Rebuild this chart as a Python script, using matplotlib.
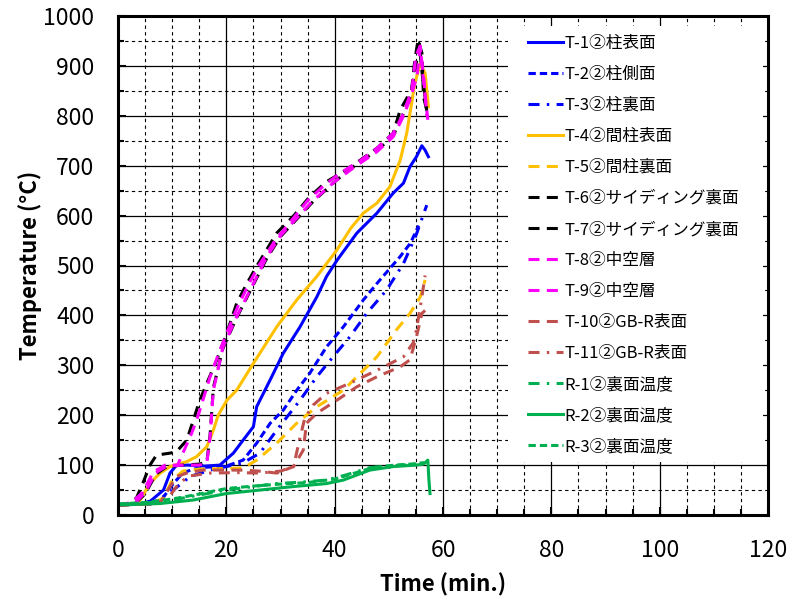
import numpy as np
import matplotlib
matplotlib.use("Agg")
import matplotlib.pyplot as plt
from matplotlib.ticker import MultipleLocator
from matplotlib.patches import Rectangle

plt.rcParams['font.family'] = ['Noto Sans CJK JP', 'DejaVu Sans']

# data (time in min, temperature in degC)
t1 = [0, 4, 6, 8.4, 9.6, 10.8, 13, 16, 18.8, 21.3, 23.1, 25, 25.6, 28.1, 30.5, 33.6, 36.7, 38.5, 40.4, 44.1, 47.8, 50.8, 52.7, 53.9, 55.1, 56.1, 56.7, 57.3]
T1 = [20, 22, 28, 50, 84, 100, 100, 98, 100, 124, 150, 177, 217, 271, 324, 377, 437, 478, 510, 565, 605, 645, 665, 698, 718, 740, 731, 718]

t2 = [0, 5, 8, 10, 12, 15, 20, 23.1, 25.6, 28.1, 30.5, 33, 35.4, 38.5, 41.6, 45.3, 47.8, 52.1, 54, 55.5]
T2 = [20, 22, 30, 60, 85, 95, 98, 110, 144, 184, 210, 250, 284, 337, 377, 431, 464, 518, 545, 580]

t3 = [0, 6, 8.4, 10.2, 13.3, 17, 20, 23, 26.2, 29.3, 33.6, 36.7, 39.7, 42.8, 45.9, 49.6, 52.7, 55, 57]
T3 = [20, 22, 37, 50, 77, 90, 97, 104, 124, 170, 230, 277, 317, 357, 404, 451, 504, 560, 621]

t4 = [0, 3, 4.1, 5.9, 7.8, 9.6, 12.7, 14.5, 16.4, 17.6, 18.5, 20.1, 21.9, 25, 29.3, 33, 36.7, 40.4, 43, 45.3, 47.8, 50.2, 52.1, 53.3, 53.9, 54.8, 55.8, 56.7, 57.3]
T4 = [20, 22, 30, 64, 84, 97, 107, 117, 137, 170, 200, 230, 250, 304, 377, 431, 478, 531, 575, 605, 625, 658, 711, 765, 805, 865, 905, 885, 818]

t5 = [0, 6, 8.4, 10, 12, 15, 20, 23.1, 25.6, 29.3, 33, 36.7, 41.6, 45.3, 47.8, 51.4, 53.9, 55.8, 56.7]
T5 = [20, 22, 34, 70, 88, 92, 93, 94, 110, 144, 184, 217, 250, 290, 317, 371, 404, 437, 471]

t6 = [0, 2, 3.4, 4.6, 5.9, 7.1, 9.6, 10.8, 12.7, 13.9, 15.1, 16.4, 18.2, 20.1, 21.9, 23.8, 25.9, 29.3, 32.3, 35.4, 38.5, 41.6, 44.7, 47.8, 50.8, 52.1, 54.2, 54.8, 55.4, 56.1, 56.4, 57.3]
T6 = [20, 22, 34, 64, 100, 120, 124, 127, 150, 190, 230, 264, 310, 365, 424, 464, 504, 565, 598, 638, 668, 688, 711, 735, 765, 812, 852, 912, 952, 926, 838, 798]

t7 = [0, 3, 5, 7, 9, 12, 15, 16.4, 17, 17.6, 19.4, 21.9, 25, 27.5, 30, 33, 36, 40, 44, 47.8, 50.8, 52.5, 54, 55, 55.6, 56.2, 57]
T7 = [20, 22, 42, 82, 97, 100, 102, 106, 160, 255, 335, 395, 462, 515, 558, 593, 628, 668, 703, 730, 760, 800, 840, 900, 945, 880, 810]

t8 = [0, 2.5, 4.6, 6.5, 8.7, 11, 13.6, 14.5, 15.1, 17, 18.8, 20.1, 22, 24, 26, 29, 32, 35, 38, 41, 44.7, 47.8, 50.8, 52.5, 54.2, 55, 55.8, 56.3, 57.2]
T8 = [20, 25, 46, 86, 100, 100, 164, 190, 210, 277, 330, 365, 415, 460, 500, 550, 590, 630, 660, 685, 710, 735, 765, 800, 850, 920, 940, 880, 792]

t9 = [0, 3, 5, 7, 9, 12, 15, 16.4, 17, 17.6, 19.4, 21.9, 25, 27.5, 30, 33, 36, 40, 44, 47.8, 50.8, 52.5, 54, 55.2, 55.8, 56.5, 57]
T9 = [20, 22, 45, 85, 98, 100, 100, 104, 157, 250, 337, 397, 464, 518, 560, 595, 630, 668, 700, 728, 758, 795, 835, 880, 935, 870, 800]

t10 = [0, 6, 8, 9.5, 10.8, 13, 15.7, 20, 23.1, 26, 29.3, 32.4, 34.2, 34.8, 36.7, 40.4, 44.1, 47.8, 52.1, 53.9, 55.1, 56.1, 56.7]
T10 = [20, 22, 28, 55, 77, 85, 90, 90, 90, 88, 84, 97, 130, 184, 204, 230, 257, 277, 297, 311, 357, 404, 410]

t11 = [0, 6, 9, 11, 13, 17, 22, 26.2, 30, 32.4, 33.5, 34.5, 36, 38.5, 42.8, 47.8, 52.7, 54.5, 55.1, 56, 56.7]
T11 = [20, 22, 30, 60, 78, 84, 85, 84, 88, 97, 150, 195, 220, 244, 264, 290, 317, 345, 371, 430, 480]

tr1 = [0, 5, 10, 15, 20, 25, 29.3, 34, 38.5, 42, 46.5, 50, 53, 56]
Tr1 = [22, 24, 30, 40, 50, 57, 63, 66, 70, 80, 95, 98, 100, 102]

tr2 = [0, 7.8, 13.9, 20, 26.2, 32.4, 38.5, 41.6, 46.5, 50.8, 55, 56.4, 57.2, 57.4, 57.6]
Tr2 = [20, 23, 30, 43, 50, 57, 63, 70, 90, 97, 100, 102, 110, 70, 43]

tr3 = [0, 5, 10, 15, 20, 25, 30, 35, 40, 44, 47, 51, 54, 56.5]
Tr3 = [22, 25, 32, 42, 53, 58, 62, 65, 72, 85, 95, 100, 102, 105]

labels = ['T-1②柱表面', 'T-2②柱側面', 'T-3②柱裏面', 'T-4②間柱表面', 'T-5②間柱裏面',
          'T-6②サイディング裏面', 'T-7②サイディング裏面', 'T-8②中空層', 'T-9②中空層',
          'T-10②GB-R表面', 'T-11②GB-R表面', 'R-1②裏面温度', 'R-2②裏面温度', 'R-3②裏面温度']

blue = '#0000FF'
orange = '#FFC000'
pink = '#FF00FF'
brown = '#C0504D'
green = '#00B050'

dash_s = (0, (2.4, 1.3))
dash_l = (0, (3.6, 2.4))
dashdot = (0, (3.6, 2.4, 0.8, 2.4))

series = [
    (t1, T1, blue, '-'),
    (t2, T2, blue, dash_s),
    (t3, T3, blue, dashdot),
    (t4, T4, orange, '-'),
    (t5, T5, orange, dash_l),
    (t6, T6, 'black', dash_l),
    (t7, T7, 'black', dash_l),
    (t8, T8, pink, dash_l),
    (t9, T9, pink, dash_l),
    (t10, T10, brown, dash_l),
    (t11, T11, brown, dashdot),
    (tr1, Tr1, green, dashdot),
    (tr2, Tr2, green, '-'),
    (tr3, Tr3, green, dash_s),
]

fig = plt.figure(figsize=(8, 6.01), dpi=100)
ax = fig.add_axes([118/800, 86/601, 650/800, 499/601])

for (x, y, c, ls), lab in zip(series, labels):
    ax.plot(x, y, color=c, linestyle=ls, lw=2.2, label=lab)

ax.set_xlim(0, 120)
ax.set_ylim(0, 1000)
ax.xaxis.set_major_locator(MultipleLocator(20))
ax.xaxis.set_minor_locator(MultipleLocator(5))
ax.yaxis.set_major_locator(MultipleLocator(100))
ax.yaxis.set_minor_locator(MultipleLocator(50))
ax.grid(which='major', color='black', lw=0.9, ls='-')
ax.grid(which='minor', color='black', lw=0.8, ls=(0, (3, 3)))
ax.set_axisbelow(True)
ax.tick_params(which='both', direction='in', labelsize=16.5, width=1.5)
ax.tick_params(which='major', length=6, pad=17)
ax.tick_params(which='minor', length=4)
for s in ax.spines.values():
    s.set_linewidth(2.2)

ax.set_xlabel('Time (min.)', fontsize=16, fontweight='bold', labelpad=8)
ax.set_ylabel('Temperature (°C)', fontsize=16, fontweight='bold', labelpad=1)

# white block behind the legend, covering the grid
ax.add_patch(Rectangle(((508 - 118) / 650, (515 - 462) / 499), (763 - 508) / 650, (462 - 26) / 499,
                       transform=ax.transAxes, facecolor='white', edgecolor='none', zorder=1))

leg = ax.legend(loc='upper left', bbox_to_anchor=((528 - 118) / 650, (515 - 35) / 499),
                fontsize=12, frameon=False, handlelength=2.1, handletextpad=0.1,
                labelspacing=0.84, borderpad=0, borderaxespad=0)

fig.savefig('out.png', dpi=100)
